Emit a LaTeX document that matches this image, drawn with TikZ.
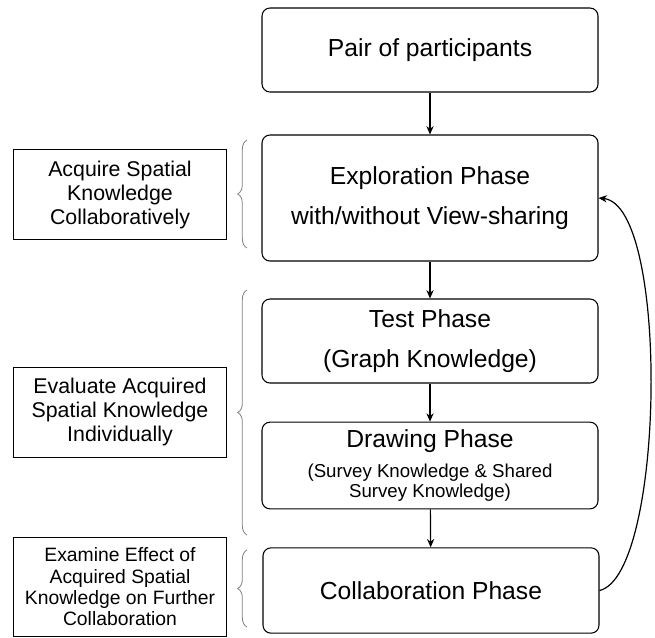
\documentclass[tikz,border=0pt]{standalone}
\usepackage{fontspec}
\setmainfont{Liberation Sans}
\usetikzlibrary{arrows.meta, positioning, decorations.pathreplacing}
\tikzset{
  % Phase boxes in the middle column.
  phase/.style={
    rectangle, rounded corners=6pt,
    draw=black, line width=0.8pt,
    fill=white, inner sep=0pt,
    minimum width=252pt,
    align=center,
    font=\fontsize{18.5}{30.5}\selectfont,
  },
  % Purpose boxes on the left.
  goal/.style={
    rectangle, draw=black, line width=0.7pt,
    fill=white, inner sep=0pt,
    minimum width=160pt,
    align=center,
    font=\fontsize{16}{18}\selectfont,
  },
  % Arrows.
  flow/.style={
    -{Stealth[length=2.2mm, width=1.9mm]},
    line width=0.9pt, draw=black,
  },
  % Grey braces grouping the phases.
  group/.style={
    decorate, decoration={brace, amplitude=7pt},
    draw=black!50, line width=0.6pt,
  },
}

\begin{document}
\begin{tikzpicture}[x=0.75pt, y=-0.75pt]
  \useasboundingbox (0,0) rectangle (655,637);

  % Phases, top to bottom.
  \node[phase, minimum height=63pt] (pair) at (430, 50) {Pair of participants};
  \node[phase, minimum height=94.5pt] (expl) at (430, 198) {%
    Exploration Phase\\with/without View-sharing};
  \node[phase, minimum height=63pt] (test) at (430, 341) {%
    Test Phase\\(Graph Knowledge)};
  \node[phase, minimum height=65pt, font=\fontsize{14}{15.5}\selectfont]
    (drawing) at (430, 465.5) {%
    {\fontsize{18.5}{22}\selectfont Drawing Phase}\\[7pt]
    (Survey Knowledge \& Shared\\Survey Knowledge)};
  \node[phase, minimum height=64pt] (collab) at (431, 590.5) {Collaboration Phase};

  % Purposes on the left.
  \node[goal, minimum height=68pt] (acq) at (120, 194.5) {%
    Acquire Spatial\\Knowledge\\Collaboratively};
  \node[goal, minimum height=67.5pt] (eval) at (120, 412) {%
    Evaluate Acquired\\Spatial Knowledge\\Individually};
  \node[goal, minimum height=74pt, font=\fontsize{14.5}{16}\selectfont]
    (exam) at (120, 587) {%
    Examine Effect of\\Acquired Spatial\\Knowledge on Further\\Collaboration};

  % Brace end points.
  \coordinate (b1s) at (247, 248);
  \coordinate (b1n) at (247, 140);
  \coordinate (b2s) at (247, 535);
  \coordinate (b2n) at (247, 290);
  \coordinate (b3s) at (247, 627);
  \coordinate (b3n) at (247, 550);
  \draw[group] (b1s) -- (b1n);
  \draw[group] (b2s) -- (b2n);
  \draw[group] (b3s) -- (b3n);

  % Main sequence.
  \draw[flow] (pair) -- (expl);
  \draw[flow] (expl) -- (test);
  \draw[flow] (test) -- (drawing);
  \draw[flow] (drawing) -- (collab);

  % Loop back from collaboration to exploration.
  \draw[flow] (collab.east) .. controls (665, 575) and (670, 205) .. (expl.east);

\end{tikzpicture}
\end{document}
